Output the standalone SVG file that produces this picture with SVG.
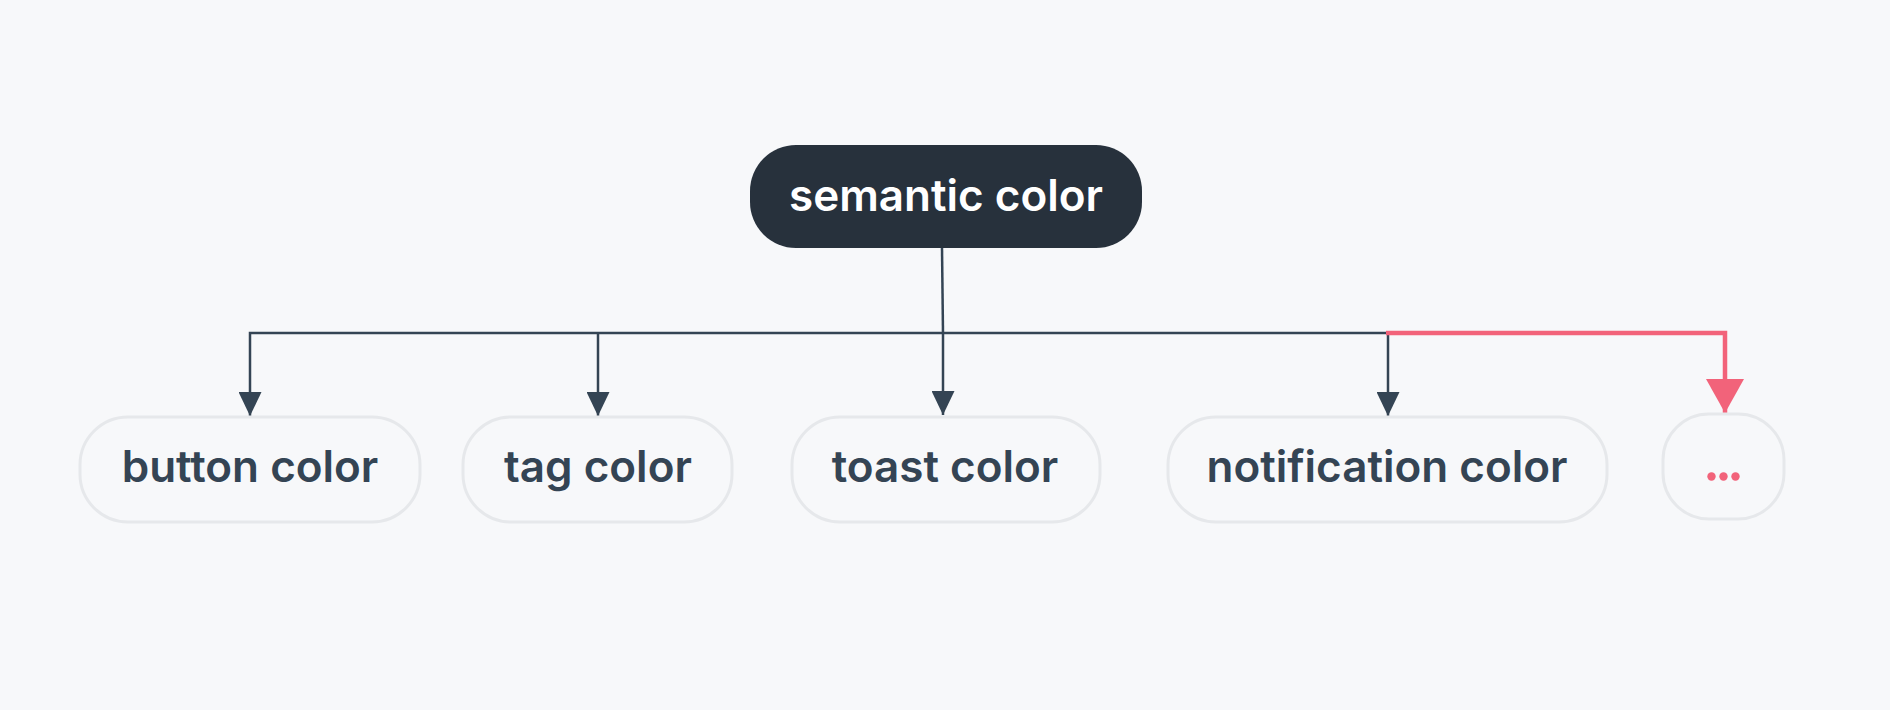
<svg xmlns="http://www.w3.org/2000/svg" width="1890" height="710" viewBox="0 0 1890 710">
<defs>
<style>
.bg{fill:#f7f8fa}
.leaf rect{fill:#f7f8fa;stroke:#e6e8eb;stroke-width:3}
.leaf text{fill:#344454;font-family:Inter,"Noto Sans",sans-serif;font-weight:600;font-size:44px;text-anchor:middle;dominant-baseline:central}
.root rect{fill:#27313c}
.root text{fill:#ffffff;font-family:Inter,"Noto Sans",sans-serif;font-weight:600;font-size:44px;text-anchor:middle;dominant-baseline:central}
.edge{fill:none;stroke:#344454;stroke-width:2.5}
.hl{fill:none;stroke:#f2637a;stroke-width:4.5}
</style>
<marker id="ah" viewBox="0 0 24 23" refX="24" refY="11.5" markerWidth="24" markerHeight="23" markerUnits="userSpaceOnUse" orient="auto">
<path d="M0,0 L24,11.5 L0,23 Z" fill="#344454"/>
</marker>
<marker id="ahr" viewBox="0 0 34 38" refX="34" refY="19" markerWidth="34" markerHeight="38" markerUnits="userSpaceOnUse" orient="auto">
<path d="M0,0 L34,19 L0,38 Z" fill="#f2637a"/>
</marker>
</defs>
<rect class="bg" x="0" y="0" width="1890" height="710"/>
<g id="connectors">
<path class="edge" d="M942,248 L943,333"/>
<path class="edge" d="M1388,333 L250,333 L250,416" marker-end="url(#ah)"/>
<path class="edge" d="M598,333 L598,416" marker-end="url(#ah)"/>
<path class="edge" d="M943,333 L943,415" marker-end="url(#ah)"/>
<path class="edge" d="M1388,333 L1388,416" marker-end="url(#ah)"/>
<path class="hl" d="M1386,333 L1725,333 L1725,413" marker-end="url(#ahr)"/>
</g>
<g id="node-root" class="root">
<rect x="750" y="145" width="392" height="103" rx="46"/>
<text x="946" y="195">semantic color</text>
</g>
<g id="node-button" class="leaf">
<rect x="80" y="417" width="340" height="105" rx="48"/>
<text x="250" y="466">button color</text>
</g>
<g id="node-tag" class="leaf">
<rect x="463" y="417" width="269" height="105" rx="48"/>
<text x="598" y="466">tag color</text>
</g>
<g id="node-toast" class="leaf">
<rect x="792" y="417" width="308" height="105" rx="48"/>
<text x="945" y="466">toast color</text>
</g>
<g id="node-notification" class="leaf">
<rect x="1168" y="417" width="439" height="105" rx="48"/>
<text x="1387" y="466">notification color</text>
</g>
<g id="node-more" class="leaf">
<rect x="1663" y="414" width="121" height="105" rx="46"/>
<circle cx="1711.5" cy="476.5" r="4.2" fill="#f2637a"/>
<circle cx="1723.5" cy="476.5" r="4.2" fill="#f2637a"/>
<circle cx="1735.5" cy="476.5" r="4.2" fill="#f2637a"/>
</g>
</svg>
